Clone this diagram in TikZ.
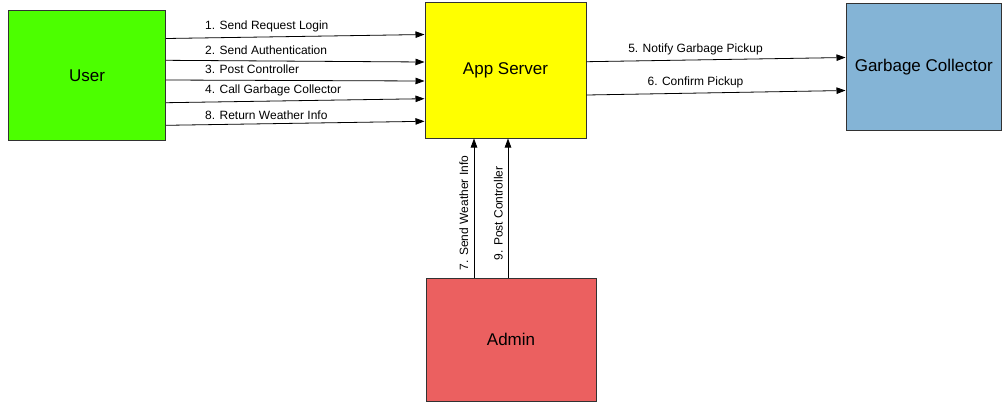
\documentclass[tikz,border=0pt]{standalone}
\usepackage{fontspec}
\setmainfont{Liberation Sans}
\usetikzlibrary{arrows.meta,positioning}
\definecolor{usergreen}{RGB}{76,255,0}
\definecolor{appyellow}{RGB}{255,255,0}
\definecolor{gcblue}{RGB}{132,180,214}
\definecolor{adminred}{RGB}{235,96,96}
\definecolor{edgegray}{RGB}{50,50,50}
\begin{document}
\begin{tikzpicture}[x=1pt,y=-1pt,
  entity/.style={draw=edgegray,line width=1pt,rectangle,inner sep=0pt,anchor=north west,font=\fontsize{17}{20}\selectfont},
  flow/.style={draw=black,line width=0.8pt,-{Triangle[length=9pt,width=6.5pt]}},
  lbl/.style={inner sep=0pt,font=\fontsize{12}{14}\selectfont,text height=8.6pt,text depth=2.4pt}]
\useasboundingbox (0,0) rectangle (1006,408);
\node[entity,fill=usergreen,minimum width=157pt,minimum height=130pt] (user) at (8,10) {User};
\node[entity,fill=appyellow,minimum width=161pt,minimum height=135.5pt] (app) at (424.5,2) {App Server};
\node[entity,fill=gcblue,minimum width=155.5pt,minimum height=127.5pt] (gc) at (845.5,2.5) {Garbage Collector};
\node[entity,fill=adminred,minimum width=170pt,minimum height=123.5pt] (admin) at (425.5,277.5) {Admin};
% User -> App Server
\draw[flow] ([yshift=-28.5pt]user.north east) -- ([yshift=-32.5pt]app.north west);
\draw[flow] ([yshift=-50.3pt]user.north east) -- ([yshift=-60pt]app.north west);
\draw[flow] ([yshift=-70pt]user.north east) -- ([yshift=-79pt]app.north west);
\draw[flow] ([yshift=-92.7pt]user.north east) -- ([yshift=-96.7pt]app.north west);
\draw[flow] ([yshift=-115.3pt]user.north east) -- ([yshift=-119.3pt]app.north west);
% App Server -> Garbage Collector
\draw[flow] ([yshift=-59.7pt]app.north east) -- ([yshift=-55pt]gc.north west);
\draw[flow] ([yshift=-93pt]app.north east) -- ([yshift=-88pt]gc.north west);
% Admin -> App Server
\draw[flow] ([xshift=48.5pt]admin.north west) -- ([xshift=49.5pt]app.south west);
\draw[flow] ([xshift=82.5pt]admin.north west) -- ([xshift=83.5pt]app.south west);
% labels
\node[lbl,anchor=west] (l1) at (205,26) {1. Send Request Login};
\node[lbl,anchor=west] (l2) at (205,51) {2. Send Authentication};
\node[lbl,anchor=west] (l3) at (205,70.7) {3. Post Controller};
\node[lbl,anchor=west] (l4) at (205,90.7) {4. Call Garbage Collector};
\node[lbl,anchor=west] (l8) at (205,116.7) {8. Return Weather Info};
\node[lbl] (l5) at (695.5,49.3) {5. Notify Garbage Pickup};
\node[lbl] (l6) at (695.5,82.7) {6. Confirm Pickup};
\node[lbl,rotate=90] (l7) at (465,213) {7. Send Weather Info};
\node[lbl,rotate=90] (l9) at (499.5,213.5) {9. Post Controller};
\end{tikzpicture}
\end{document}
